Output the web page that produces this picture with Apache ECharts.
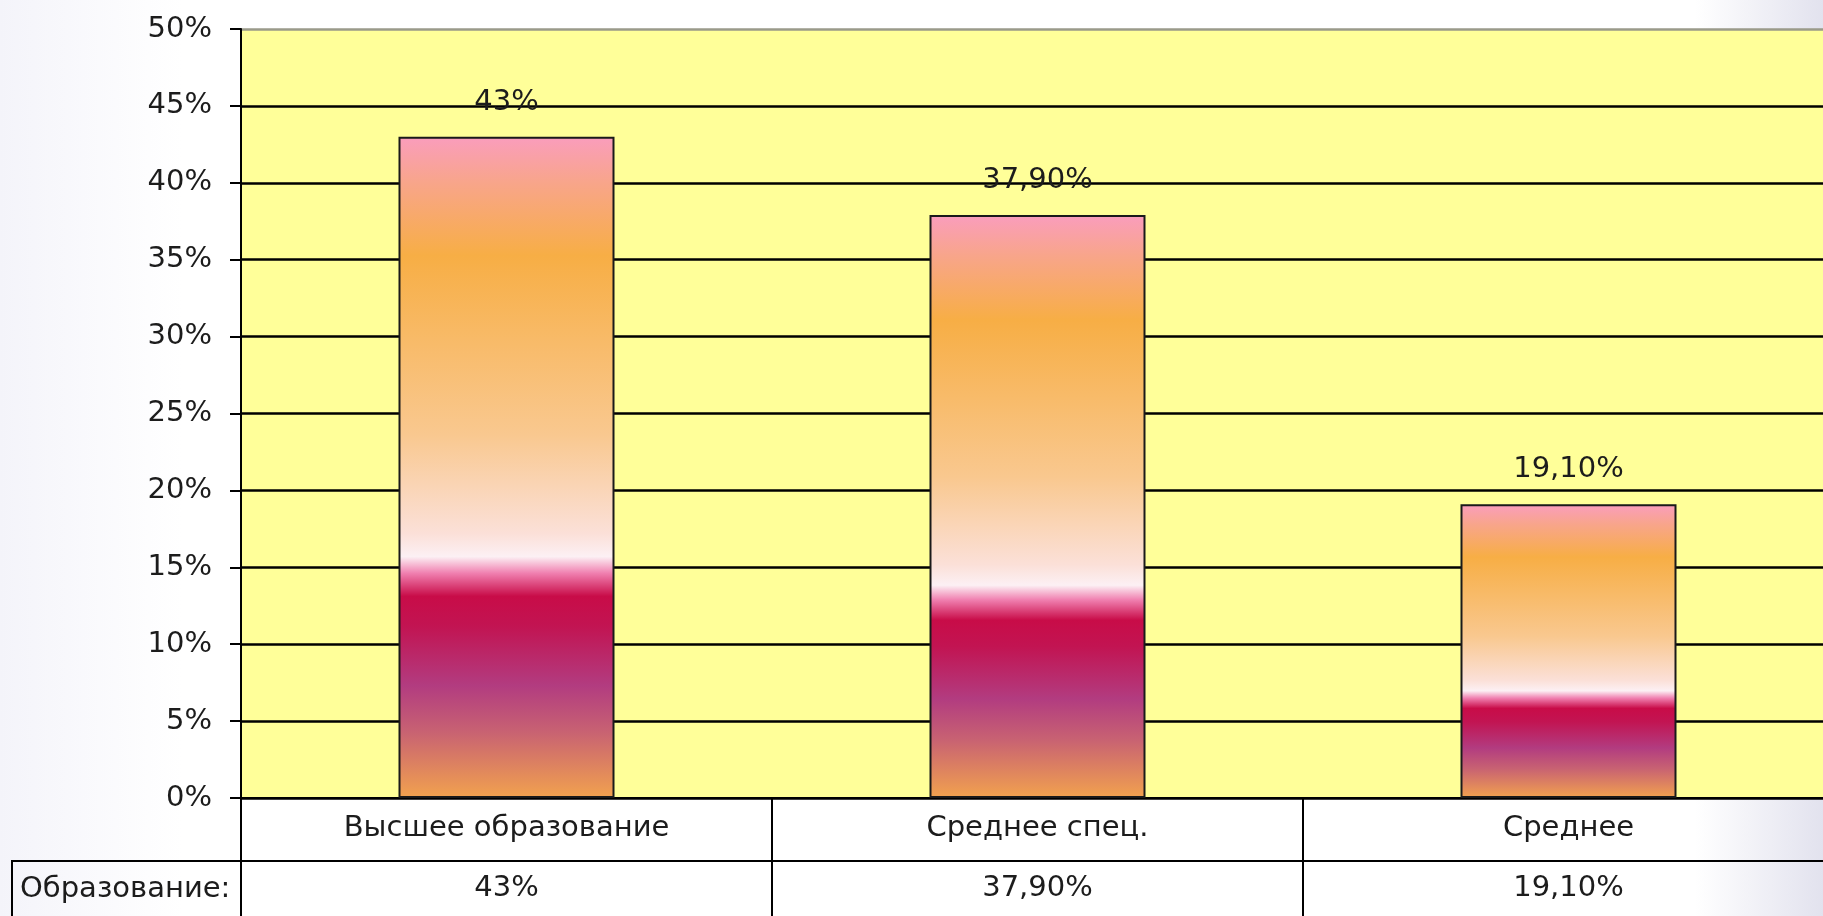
<!DOCTYPE html>
<html>
<head>
<meta charset="utf-8">
<script src="https://cdn.jsdelivr.net/npm/echarts@6/dist/echarts.min.js"></script>
<style>
  html, body { margin: 0; padding: 0; }
  #chart { width: 1823px; height: 916px; }
</style>
</head>
<body>
<div id="chart"></div>
<script>
const categories = ["Высшее образование", "Среднее спец.", "Среднее"];
const values = [43, 37.9, 19.1];
const valueLabels = ["43%", "37,90%", "19,10%"];
const rowTitle = "Образование:";

const font = "'DejaVu Sans', Verdana, sans-serif";
const fs = 29;
const ink = "#1c1c1c";

// gradient that runs down each bar (top -> bottom)
const barFill = new echarts.graphic.LinearGradient(0, 0, 0, 1, [
  { offset: 0, color: "#fa9dbd" },
  { offset: 0.07, color: "#f8a58a" },
  { offset: 0.18, color: "#f7ae45" },
  { offset: 0.45, color: "#f9c88f" },
  { offset: 0.6, color: "#fbe0d8" },
  { offset: 0.635, color: "#fcf0f4" },
  { offset: 0.66, color: "#f080b0" },
  { offset: 0.695, color: "#c80c48" },
  { offset: 0.74, color: "#c21452" },
  { offset: 0.83, color: "#b23c80" },
  { offset: 0.9, color: "#c86272" },
  { offset: 1, color: "#f2a24e" }
]);

const chart = echarts.init(document.getElementById("chart"));
chart.setOption({
  backgroundColor: new echarts.graphic.LinearGradient(0, 0, 1, 0, [
    { offset: 0, color: "#f4f4fa" },
    { offset: 0.1, color: "#ffffff" },
    { offset: 0.93, color: "#ffffff" },
    { offset: 1, color: "#e2e2ee" }
  ]),
  animation: false,
  grid: {
    left: 241, width: 1593, top: 29, bottom: 118,
    outerBoundsMode: "none", containLabel: false,
    show: true, backgroundColor: "#ffff99", borderWidth: 0
  },
  xAxis: [
    {
      type: "category",
      data: categories,
      position: "bottom",
      axisLine: { show: true, lineStyle: { color: "#000", width: 2 } },
      axisTick: { show: true, interval: 0, length: 63, lineStyle: { color: "#000", width: 2 } },
      axisLabel: { margin: 16, fontSize: fs, color: ink, fontFamily: font, interval: 0 }
    },
    {
      type: "category",
      data: categories,
      position: "bottom",
      offset: 63,
      axisLine: { show: true, lineStyle: { color: "#000", width: 2 } },
      axisTick: { show: true, interval: 0, length: 56, lineStyle: { color: "#000", width: 2 } },
      axisLabel: {
        margin: 13, fontSize: fs, color: ink, fontFamily: font, interval: 0,
        formatter: (v, i) => valueLabels[i]
      }
    }
  ],
  yAxis: {
    type: "value",
    min: 0,
    max: 50,
    interval: 5,
    axisLine: { show: true, lineStyle: { color: "#000", width: 2 } },
    axisTick: { show: true, length: 11, lineStyle: { color: "#000", width: 2 } },
    axisLabel: { margin: 29, fontSize: fs, color: ink, fontFamily: font, formatter: "{value}%" },
    splitLine: {
      show: true,
      lineStyle: {
        color: ["#000", "#000", "#000", "#000", "#000", "#000", "#000", "#000", "#000", "#000", "#9a9a8a"],
        width: 2.5
      }
    }
  },
  series: [
    {
      type: "bar",
      data: values,
      barWidth: 216,
      itemStyle: { color: barFill, borderColor: "#1a1a1a", borderWidth: 2 },
      label: {
        show: true,
        position: "top",
        distance: 20,
        fontSize: fs,
        color: ink,
        fontFamily: font,
        formatter: (p) => valueLabels[p.dataIndex]
      }
    }
  ],
  graphic: [
    {
      type: "rect",
      shape: { x: 12, y: 861, width: 229, height: 60 },
      style: { fill: "rgba(0,0,0,0)", stroke: "#000", lineWidth: 2 }
    },
    {
      type: "text",
      x: 20,
      y: 889,
      style: { text: rowTitle, font: fs + "px " + font, fill: ink, verticalAlign: "middle" }
    }
  ]
});
</script>
</body>
</html>
